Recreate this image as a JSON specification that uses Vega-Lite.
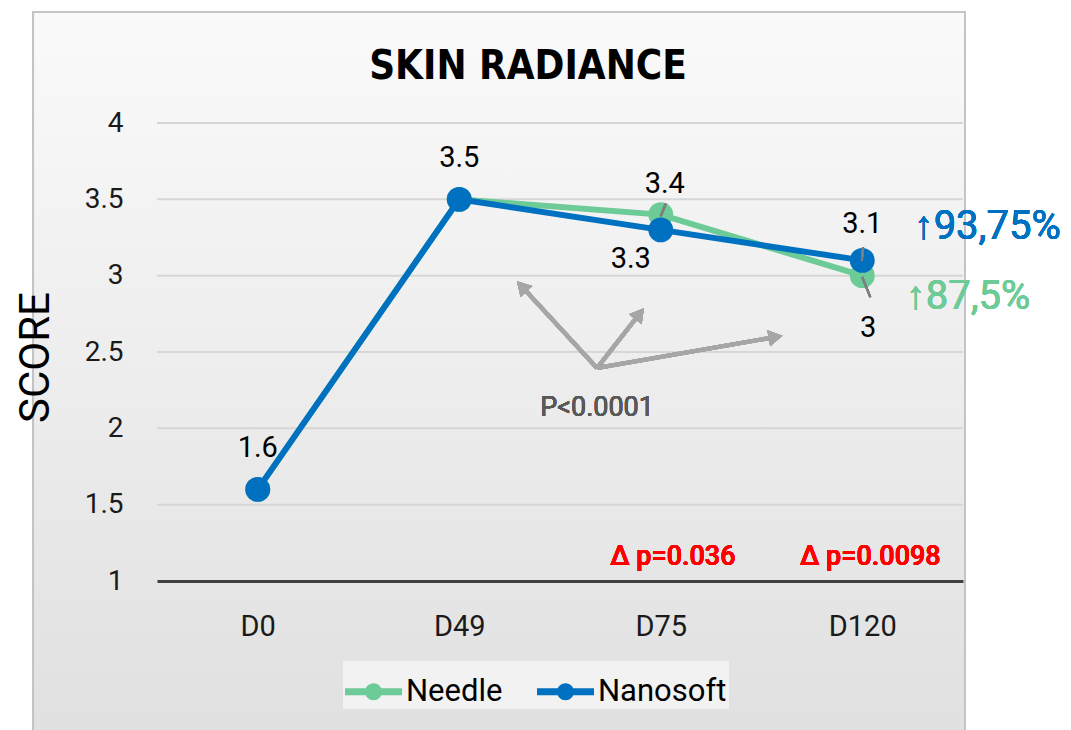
{
  "$schema": "https://vega.github.io/schema/vega-lite/v6.json",
  "width": 806,
  "height": 458,
  "autosize": {"type": "none"},
  "padding": {"left": 157, "top": 123, "right": 108, "bottom": 149},
  "background": "#ffffff",
  "config": {"font": "Roboto", "view": {"stroke": null}},
  "title": {
    "text": "SKIN RADIANCE",
    "font": "Liberation Sans Narrow, DejaVu Sans Condensed, Roboto",
    "fontSize": 40,
    "fontWeight": "bold",
    "color": "#000000",
    "anchor": "middle",
    "frame": "group",
    "dx": -32,
    "baseline": "alphabetic",
    "offset": -108,
    "zindex": 1
  },
  "datasets": {
    "scores": [
      {"day": "D0", "idx": 0, "series": "Needle", "score": 1.6},
      {"day": "D49", "idx": 1, "series": "Needle", "score": 3.5},
      {"day": "D75", "idx": 2, "series": "Needle", "score": 3.4},
      {"day": "D120", "idx": 3, "series": "Needle", "score": 3.0},
      {"day": "D0", "idx": 0, "series": "Nanosoft", "score": 1.6},
      {"day": "D49", "idx": 1, "series": "Nanosoft", "score": 3.5},
      {"day": "D75", "idx": 2, "series": "Nanosoft", "score": 3.3},
      {"day": "D120", "idx": 3, "series": "Nanosoft", "score": 3.1}
    ],
    "grid": [{"g": 1.5}, {"g": 2}, {"g": 2.5}, {"g": 3}, {"g": 3.5}, {"g": 4}]
  },
  "data": {"name": "scores"},
  "encoding": {
    "x": {
      "field": "idx",
      "type": "quantitative",
      "scale": {"domain": [-0.5, 3.5], "nice": false, "zero": false},
      "axis": {
        "title": null,
        "values": [0, 1, 2, 3],
        "labelExpr": "['D0','D49','D75','D120'][datum.value]",
        "grid": false,
        "ticks": false,
        "domain": true,
        "domainColor": "#404040",
        "domainWidth": 3,
        "labelFontSize": 29,
        "labelColor": "#1a1a1a",
        "labelPadding": 31,
        "zindex": 1
      }
    },
    "y": {
      "field": "score",
      "type": "quantitative",
      "scale": {"domain": [1, 4], "nice": false, "zero": false},
      "axis": {
        "title": "SCORE",
        "values": [1, 1.5, 2, 2.5, 3, 3.5, 4],
        "labelExpr": "datum.value",
        "grid": false,
        "ticks": false,
        "domain": false,
        "labelFontSize": 28,
        "labelColor": "#1a1a1a",
        "labelPadding": 34,
        "titleFontSize": 42,
        "titleFontWeight": "normal",
        "titleColor": "#000000",
        "titleAngle": -90,
        "titleAlign": "center",
        "titleBaseline": "middle",
        "titleX": -122,
        "titleY": 234,
        "zindex": 1
      }
    },
    "color": {
      "field": "series",
      "type": "nominal",
      "scale": {"domain": ["Needle", "Nanosoft"], "range": ["#6dcb97", "#0070c0"]},
      "legend": {
        "title": null,
        "orient": "none",
        "direction": "horizontal",
        "legendX": 186,
        "legendY": 538,
        "fillColor": "#f2f2f2",
        "padding": 2,
        "symbolType": "M-1,-0.12L1,-0.12L1,0.12L-1,0.12Z M0.3,0A0.3,0.3 0 1 1 -0.3,0A0.3,0.3 0 1 1 0.3,0Z",
        "symbolSize": 3249,
        "symbolStrokeWidth": 0,
        "labelFontSize": 31,
        "labelColor": "#000000",
        "labelOffset": 4,
        "columnPadding": 34,
        "zindex": 1,
        "encode": {"symbols": {"update": {"fill": {"scale": "color", "field": "value"}, "fillOpacity": {"value": 1}, "strokeWidth": {"value": 0}}}}
      }
    }
  },
  "layer": [
    {
      "mark": {
        "type": "rect",
        "clip": false,
        "stroke": "#c4c4c4",
        "strokeWidth": 2,
        "color": {"gradient": "linear", "x1": 0, "y1": 0, "x2": 0, "y2": 1, "stops": [{"offset": 0, "color": "#fafafa"}, {"offset": 1, "color": "#e0e0e0"}]}
      },
      "encoding": {
        "x": {"datum": -1.115, "type": "quantitative"},
        "x2": {"datum": 3.51},
        "y": {"datum": 4.727, "type": "quantitative"},
        "y2": {"datum": -0.05},
        "color": null
      }
    },
    {
      "data": {"name": "grid"},
      "mark": {"type": "rule", "color": "#d6d6d6", "strokeWidth": 2},
      "encoding": {"y": {"field": "g", "type": "quantitative"}, "x": null, "color": null}
    },
    {
      "mark": {"type": "rule", "color": "#a6a6a6", "strokeWidth": 4},
      "encoding": {"x": {"datum": 1.684, "type": "quantitative"}, "y": {"datum": 2.395, "type": "quantitative"}, "x2": {"datum": 1.31}, "y2": {"datum": 2.93}, "color": null}
    },
    {
      "mark": {"type": "rule", "color": "#a6a6a6", "strokeWidth": 4},
      "encoding": {"x": {"datum": 1.684, "type": "quantitative"}, "y": {"datum": 2.395, "type": "quantitative"}, "x2": {"datum": 1.895}, "y2": {"datum": 2.75}, "color": null}
    },
    {
      "mark": {"type": "rule", "color": "#a6a6a6", "strokeWidth": 4},
      "encoding": {"x": {"datum": 1.684, "type": "quantitative"}, "y": {"datum": 2.395, "type": "quantitative"}, "x2": {"datum": 2.57}, "y2": {"datum": 2.598}, "color": null}
    },
    {
      "mark": {"type": "point", "shape": "triangle-up", "filled": true, "size": 260, "angle": 317, "color": "#a6a6a6", "opacity": 1},
      "encoding": {"x": {"datum": 1.31, "type": "quantitative"}, "y": {"datum": 2.93, "type": "quantitative"}, "color": null}
    },
    {
      "mark": {"type": "point", "shape": "triangle-up", "filled": true, "size": 260, "angle": 38, "color": "#a6a6a6", "opacity": 1},
      "encoding": {"x": {"datum": 1.895, "type": "quantitative"}, "y": {"datum": 2.75, "type": "quantitative"}, "color": null}
    },
    {
      "mark": {"type": "point", "shape": "triangle-up", "filled": true, "size": 260, "angle": 80, "color": "#a6a6a6", "opacity": 1},
      "encoding": {"x": {"datum": 2.57, "type": "quantitative"}, "y": {"datum": 2.598, "type": "quantitative"}, "color": null}
    },
    {
      "transform": [{"filter": "datum.series === 'Needle'"}],
      "mark": {"type": "line", "strokeWidth": 6, "point": {"filled": true, "size": 620, "opacity": 1}}
    },
    {
      "transform": [{"filter": "datum.series === 'Nanosoft'"}],
      "mark": {"type": "line", "strokeWidth": 6, "point": {"filled": true, "size": 620, "opacity": 1}}
    },
    {
      "mark": {"type": "rule", "color": "#7f7f7f", "strokeWidth": 2},
      "encoding": {"x": {"datum": 3.004, "type": "quantitative"}, "y": {"datum": 3.188, "type": "quantitative"}, "x2": {"datum": 2.998}, "y2": {"datum": 3.1}, "color": null}
    },
    {
      "mark": {"type": "rule", "color": "#7f7f7f", "strokeWidth": 2},
      "encoding": {"x": {"datum": 3.0, "type": "quantitative"}, "y": {"datum": 2.99, "type": "quantitative"}, "x2": {"datum": 3.04}, "y2": {"datum": 2.86}, "color": null}
    },
    {
      "mark": {"type": "rule", "color": "#7f7f7f", "strokeWidth": 2},
      "encoding": {"x": {"datum": 2.025, "type": "quantitative"}, "y": {"datum": 3.472, "type": "quantitative"}, "x2": {"datum": 2.0}, "y2": {"datum": 3.39}, "color": null}
    },
    {
      "transform": [{"filter": "datum.series === 'Nanosoft' && datum.idx < 2"}],
      "mark": {"type": "text", "fontSize": 29, "color": "#000000", "dy": -41, "baseline": "middle"},
      "encoding": {"text": {"field": "score", "type": "quantitative", "format": ".1f"}, "color": null}
    },
    {
      "transform": [{"filter": "datum.series === 'Nanosoft' && datum.idx === 3"}],
      "mark": {"type": "text", "fontSize": 29, "color": "#000000", "dy": -36, "baseline": "middle"},
      "encoding": {"text": {"field": "score", "type": "quantitative", "format": ".1f"}, "color": null}
    },
    {
      "transform": [{"filter": "datum.series === 'Nanosoft' && datum.idx === 2"}],
      "mark": {"type": "text", "fontSize": 29, "color": "#000000", "dx": -30, "dy": 29, "baseline": "middle"},
      "encoding": {"text": {"field": "score", "type": "quantitative", "format": ".1f"}, "color": null}
    },
    {
      "transform": [{"filter": "datum.series === 'Needle' && datum.idx === 2"}],
      "mark": {"type": "text", "fontSize": 29, "color": "#000000", "dx": 4, "dy": -31, "baseline": "middle"},
      "encoding": {"text": {"field": "score", "type": "quantitative", "format": ".1f"}, "color": null}
    },
    {
      "transform": [{"filter": "datum.series === 'Needle' && datum.idx === 3"}],
      "mark": {"type": "text", "fontSize": 29, "color": "#000000", "dx": 6, "dy": 52, "baseline": "middle"},
      "encoding": {"text": {"field": "score", "type": "quantitative", "format": "d"}, "color": null}
    },
    {
      "mark": {"type": "text", "text": "P<0.0001", "fontSize": 27, "color": "#595959", "baseline": "middle"},
      "encoding": {"x": {"datum": 1.684, "type": "quantitative"}, "y": {"datum": 2.133, "type": "quantitative"}, "color": null}
    },
    {
      "mark": {"type": "text", "text": "Δ p=0.036", "fontSize": 27, "fontWeight": 500, "color": "#ff0000", "baseline": "middle"},
      "encoding": {"x": {"datum": 2.06, "type": "quantitative"}, "y": {"datum": 1.16, "type": "quantitative"}, "color": null}
    },
    {
      "mark": {"type": "text", "text": "Δ p=0.0098", "fontSize": 27, "fontWeight": 500, "color": "#ff0000", "baseline": "middle"},
      "encoding": {"x": {"datum": 3.04, "type": "quantitative"}, "y": {"datum": 1.16, "type": "quantitative"}, "color": null}
    },
    {
      "mark": {"type": "text", "text": "↑93,75%", "fontSize": 40, "color": "#0070c0", "baseline": "middle", "clip": false},
      "encoding": {"x": {"datum": 3.62, "type": "quantitative"}, "y": {"datum": 3.319, "type": "quantitative"}, "color": null}
    },
    {
      "mark": {"type": "text", "text": "↑87,5%", "fontSize": 40, "color": "#6dcb97", "baseline": "middle", "clip": false},
      "encoding": {"x": {"datum": 3.525, "type": "quantitative"}, "y": {"datum": 2.86, "type": "quantitative"}, "color": null}
    }
  ]
}
